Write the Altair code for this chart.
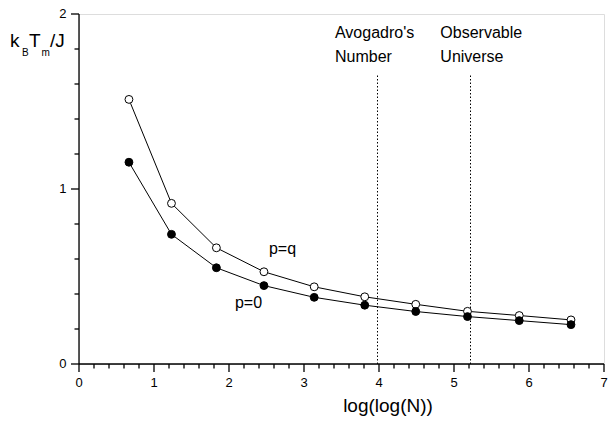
import altair as alt
import pandas as pd

FONT = "Liberation Sans"

# data
x_vals = [0.666, 1.233, 1.832, 2.466, 3.136, 3.81, 4.49, 5.18, 5.87, 6.56]
pq_vals = [1.512, 0.918, 0.664, 0.527, 0.441, 0.384, 0.341, 0.301, 0.277, 0.252]
p0_vals = [1.153, 0.741, 0.550, 0.448, 0.381, 0.336, 0.300, 0.271, 0.248, 0.225]

x_major_ticks = [0, 1, 2, 3, 4, 5, 6, 7]
x_tick_labels = ["0", "1", "2", "3", "4", "5", "6", "7"]
y_major_ticks = [0, 1, 2]
y_tick_labels = ["0", "1", "2"]
x_minor_ticks = [round(i * 0.2, 1) for i in range(36) if i % 5 != 0]
y_minor_ticks = [round(i * 0.2, 1) for i in range(11) if i % 5 != 0]

marker_x = [3.98, 5.22]
marker_top = 1.66

ann_text = ["Avogadro's", "Number", "Observable", "Universe"]
ann_x = [3.413, 3.413, 4.818, 4.818]
ann_y = [1.861, 1.728, 1.861, 1.728]

series_label_text = ["p=q", "p=0"]
series_label_x = [2.532, 2.079]
series_label_y = [0.626, 0.322]

W, H = 525, 350
XPX = W / 7.0   # pixels per x unit
YPX = H / 2.0   # pixels per y unit
AXW = 1.3

df_pq = pd.DataFrame({"x": x_vals, "y": pq_vals, "series": "p=q"})
df_p0 = pd.DataFrame({"x": x_vals, "y": p0_vals, "series": "p=0"})
df_all = pd.concat([df_pq, df_p0], ignore_index=True)

xscale = alt.Scale(domain=[0, 7], nice=False, zero=False)
yscale = alt.Scale(domain=[0, 2], nice=False, zero=False)

X = lambda f: alt.X(f, scale=xscale, axis=None)
Y = lambda f: alt.Y(f, scale=yscale, axis=None)

# ---- axes drawn through the scales ----
x_domain = alt.Chart(pd.DataFrame({"a": [0], "b": [7], "y": [0]})).mark_rule(
    color="black", strokeWidth=AXW
).encode(x=X("a:Q"), x2="b:Q", y=Y("y:Q"))
y_domain = alt.Chart(pd.DataFrame({"x": [0], "a": [0], "b": [2]})).mark_rule(
    color="black", strokeWidth=AXW
).encode(x=X("x:Q"), y=Y("a:Q"), y2="b:Q")

def xticks(vals, length_px):
    d = pd.DataFrame({"v": vals, "y0": 0.0, "y1": -length_px / YPX})
    return alt.Chart(d).mark_rule(color="black", strokeWidth=AXW).encode(
        x=X("v:Q"), y=Y("y0:Q"), y2="y1:Q")

def yticks(vals, length_px):
    d = pd.DataFrame({"v": vals, "x0": 0.0, "x1": -length_px / XPX})
    return alt.Chart(d).mark_rule(color="black", strokeWidth=AXW).encode(
        y=Y("v:Q"), x=X("x0:Q"), x2="x1:Q")

x_major = xticks(x_major_ticks, 8)
x_minor = xticks(x_minor_ticks, 4.5)
y_major = yticks(y_major_ticks, 8)
y_minor = yticks(y_minor_ticks, 4.5)

x_lab = alt.Chart(pd.DataFrame({
    "v": x_major_ticks, "t": x_tick_labels, "y": -13.0 / YPX
})).mark_text(align="center", baseline="top", fontSize=13, font=FONT, color="black").encode(
    x=X("v:Q"), y=Y("y:Q"), text="t:N")

y_lab = alt.Chart(pd.DataFrame({
    "v": y_major_ticks, "t": y_tick_labels, "x": -12.5 / XPX
})).mark_text(align="right", baseline="middle", fontSize=13, font=FONT, color="black").encode(
    x=X("x:Q"), y=Y("v:Q"), text="t:N")

x_title = alt.Chart(pd.DataFrame({
    "x": [4.12], "y": [-48.0 / YPX], "t": ["log(log(N))"]
})).mark_text(align="center", baseline="alphabetic", fontSize=19, font=FONT, color="black").encode(
    x=X("x:Q"), y=Y("y:Q"), text="t:N")

# y axis title: k_B T_m / J built from pieces (pixel offsets converted to data units)
title_parts = [
    ("k", -69.0, 32.7, 19),
    ("B", -57.0, 42.0, 10),
    ("T", -50.0, 32.7, 19),
    ("m", -37.5, 42.0, 10),
    ("/J", -29.0, 32.7, 19),
]
title_layers = []
for txt, px, py, fs in title_parts:
    d = pd.DataFrame({"x": [px / XPX], "y": [2 - py / YPX], "t": [txt]})
    title_layers.append(
        alt.Chart(d).mark_text(
            align="left", baseline="alphabetic", fontSize=fs, font=FONT, color="black"
        ).encode(x=X("x:Q"), y=Y("y:Q"), text="t:N")
    )

# ---- data ----
lines = alt.Chart(df_all).mark_line(color="black", strokeWidth=1).encode(
    x=X("x:Q"), y=Y("y:Q"), detail="series:N")

df_rules = pd.DataFrame({"x": marker_x, "y0": [0, 0], "y1": [marker_top, marker_top]})
rules = alt.Chart(df_rules).mark_rule(
    color="black", strokeWidth=1, strokeDash=[1.5, 2]
).encode(x=X("x:Q"), y=Y("y0:Q"), y2="y1:Q")

open_pts = alt.Chart(df_pq).mark_point(
    shape="circle", filled=True, fill="white", stroke="black",
    strokeWidth=1, size=62, opacity=1
).encode(x=X("x:Q"), y=Y("y:Q"))

filled_pts = alt.Chart(df_p0).mark_point(
    shape="circle", filled=True, fill="black", stroke="black",
    strokeWidth=1, size=62, opacity=1
).encode(x=X("x:Q"), y=Y("y:Q"))

df_ann = pd.DataFrame({"x": ann_x, "y": ann_y, "t": ann_text})
ann = alt.Chart(df_ann).mark_text(
    align="left", baseline="alphabetic", fontSize=16, font=FONT, color="black"
).encode(x=X("x:Q"), y=Y("y:Q"), text="t:N")

df_sl = pd.DataFrame({"x": series_label_x, "y": series_label_y, "t": series_label_text})
slabels = alt.Chart(df_sl).mark_text(
    align="left", baseline="alphabetic", fontSize=16, font=FONT, color="black"
).encode(x=X("x:Q"), y=Y("y:Q"), text="t:N")

chart = alt.layer(
    x_domain, y_domain, x_major, x_minor, y_major, y_minor, x_lab, y_lab, x_title,
    lines, rules, open_pts, filled_pts, ann, slabels, *title_layers
).properties(
    width=W,
    height=H,
    padding={"left": 71, "top": 6, "right": 4, "bottom": 52},
    autosize="none",
).configure_view(stroke=None).configure(font=FONT)

chart.save("out.html", embed_options={"renderer": "svg", "actions": False})
